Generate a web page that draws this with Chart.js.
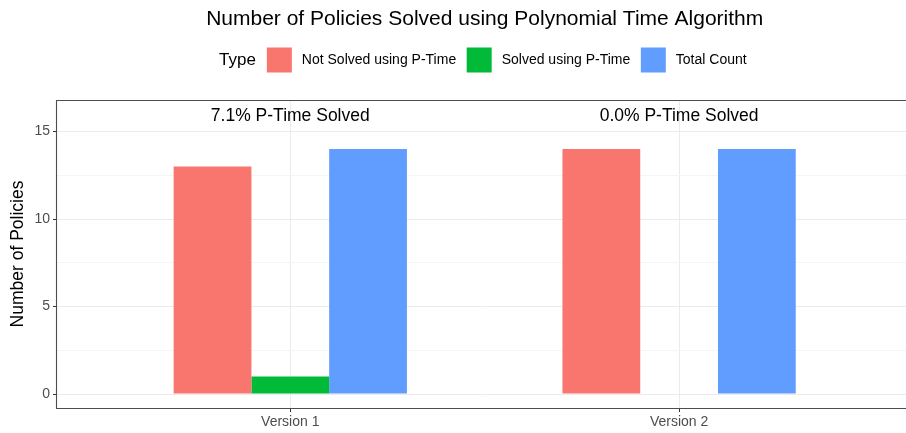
<!DOCTYPE html>
<html>
<head>
<meta charset="utf-8">
<script src="https://cdn.jsdelivr.net/npm/chart.js@4.4.1/dist/chart.umd.min.js"></script>
<style>
  html, body { margin: 0; padding: 0; background: #ffffff; overflow: hidden; }
  #wrap { width: 906px; height: 433px; position: relative; }
</style>
</head>
<body>
<div id="wrap"><canvas id="chart" width="906" height="433"></canvas></div>
<script>
// Policy counts per version
const versions = ['Version 1', 'Version 2'];
const notSolved = [13, 14];
const solvedPTime = [1, 0];
const totalCount = [14, 14];
const seriesNames = ['Not Solved using P-Time', 'Solved using P-Time', 'Total Count'];
const yTickValues = [0, 5, 10, 15];
const yMinorValues = [2.5, 7.5, 12.5];

const chartTitle = 'Number of Policies Solved using Polynomial Time Algorithm';
const legendTitle = 'Type';
const yTitle = 'Number of Policies';

const seriesColors = ['#F8766D', '#00BA38', '#619CFF'];
const FONT = '"Liberation Sans", Arial, sans-serif';
const LABEL_Y = 15.9; // value height of the per-version annotation

// share of policies solved in polynomial time, per version
const solvedLabels = versions.map((_, i) =>
  (solvedPTime[i] / totalCount[i] * 100).toFixed(1) + '% P-Time Solved');

const toPoints = arr => arr.map((y, i) => ({ x: i, y }));

const decorations = {
  id: 'decorations',
  afterDraw(chart) {
    const { ctx, chartArea, scales } = chart;
    const xs = scales.x, ys = scales.y;
    ctx.save();

    // panel border (right edge falls outside the canvas)
    ctx.strokeStyle = '#4d4d4d';
    ctx.lineWidth = 1.1;
    ctx.beginPath();
    ctx.moveTo(chart.width + 2, Math.round(chartArea.top) + 0.5);
    ctx.lineTo(Math.round(chartArea.left) - 0.5, Math.round(chartArea.top) + 0.5);
    ctx.lineTo(Math.round(chartArea.left) - 0.5, Math.round(chartArea.bottom) + 0.5);
    ctx.lineTo(chart.width + 2, Math.round(chartArea.bottom) + 0.5);
    ctx.stroke();

    // title centred over the panel
    const panelMid = xs.getPixelForValue((xs.min + 1.6) / 2);
    ctx.fillStyle = '#000000';
    ctx.textAlign = 'center';
    ctx.textBaseline = 'middle';
    ctx.font = '21px ' + FONT;
    ctx.fillText(chartTitle, panelMid, 19);

    // legend row
    const legendY = 60;
    let x = 219;
    ctx.textAlign = 'left';
    ctx.font = '17px ' + FONT;
    ctx.fillText(legendTitle, x, legendY);
    x += ctx.measureText(legendTitle).width + 11;
    ctx.font = '14px ' + FONT;
    chart.data.datasets.forEach(ds => {
      ctx.fillStyle = ds.backgroundColor;
      ctx.fillRect(x, legendY - 12.5, 25, 25);
      ctx.fillStyle = '#000000';
      ctx.fillText(ds.label, x + 35, legendY);
      x += 35 + ctx.measureText(ds.label).width + 10.5;
    });

    // per-version annotation
    ctx.textAlign = 'center';
    ctx.font = '17.5px ' + FONT;
    solvedLabels.forEach((t, i) => {
      ctx.fillText(t, xs.getPixelForValue(i), ys.getPixelForValue(LABEL_Y));
    });
    ctx.restore();
  }
};

const isMajor = v => yTickValues.includes(v);

new Chart(document.getElementById('chart'), {
  type: 'bar',
  data: {
    datasets: [
      { label: seriesNames[0], data: toPoints(notSolved), backgroundColor: seriesColors[0] },
      { label: seriesNames[1], data: toPoints(solvedPTime), backgroundColor: seriesColors[1] },
      { label: seriesNames[2], data: toPoints(totalCount), backgroundColor: seriesColors[2] }
    ]
  },
  options: {
    responsive: false,
    animation: false,
    devicePixelRatio: 1,
    layout: { padding: { top: 100, left: 0, right: 0, bottom: 0 } },
    datasets: { bar: { categoryPercentage: 0.6, barPercentage: 1.0, borderWidth: 0 } },
    plugins: { legend: { display: false }, title: { display: false }, tooltip: { enabled: false } },
    scales: {
      x: {
        type: 'linear',
        offset: false,
        min: -0.6,
        max: 1 + (906 - 679) / 389,
        afterBuildTicks: s => { s.ticks = versions.map((_, i) => ({ value: i })); },
        afterFit: s => { s.height = 25; },
        ticks: {
          callback: v => versions[v] ?? '',
          color: '#4d4d4d',
          font: { family: FONT, size: 14 },
          padding: 2,
          maxRotation: 0
        },
        grid: { offset: false, color: '#ebebeb', lineWidth: 1, tickLength: 4, tickColor: '#333333', tickWidth: 1 },
        border: { display: false }
      },
      y: {
        type: 'linear',
        min: -0.8,
        max: 16.8,
        afterBuildTicks: s => {
          s.ticks = yTickValues.concat(yMinorValues).sort((a, b) => a - b).map(v => ({ value: v }));
        },
        afterFit: s => { s.width = 57; },
        ticks: {
          callback: v => isMajor(v) ? String(v) : '',
          color: '#4d4d4d',
          font: { family: FONT, size: 14 },
          padding: 3
        },
        grid: {
          color: c => isMajor(c.tick.value) ? '#ebebeb' : '#f5f5f5',
          lineWidth: 1,
          tickLength: 4,
          tickWidth: 1,
          tickColor: c => isMajor(c.tick.value) ? '#333333' : 'rgba(0,0,0,0)'
        },
        border: { display: false },
        title: {
          display: true,
          text: yTitle,
          color: '#000000',
          font: { family: FONT, size: 17.5 },
          padding: { top: 8, bottom: 0 }
        }
      }
    }
  },
  plugins: [decorations]
});
</script>
</body>
</html>
